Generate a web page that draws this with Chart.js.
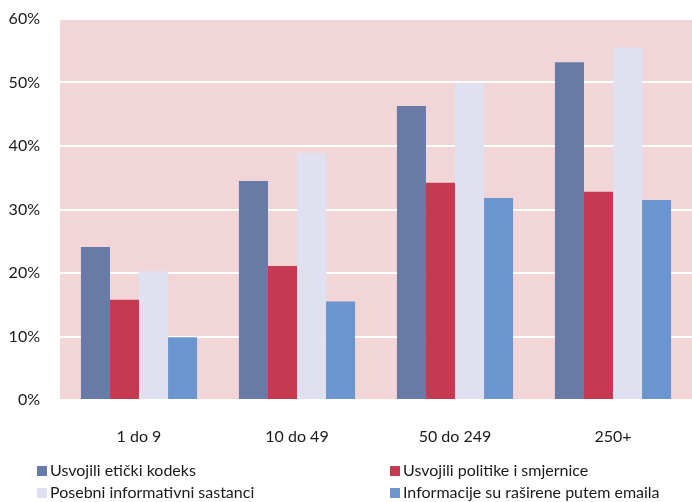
<!DOCTYPE html>
<html>
<head>
<meta charset="utf-8">
<script src="https://cdn.jsdelivr.net/npm/chart.js@4"></script>
<style>
  html, body { margin: 0; padding: 0; background: #ffffff; }
  #wrap { width: 692px; height: 502px; }
</style>
</head>
<body>
<div id="wrap"><canvas id="c" width="692" height="502"></canvas></div>
<script>
// Company size groups
const categories = ['1 do 9', '10 do 49', '50 do 249', '250+'];

// Share of companies (%) per measure
const eticki     = [24.1, 34.5, 46.3, 53.2];
const politike   = [15.8, 21.1, 34.2, 32.8];
const sastanci   = [20.3, 38.9, 49.9, 55.5];
const emailInfo  = [9.9, 15.5, 31.8, 31.5];

const seriesLabels = [
  'Usvojili etički kodeks',
  'Usvojili politike i smjernice',
  'Posebni informativni sastanci',
  'Informacije su raširene putem emaila'
];

const yTicks = [0, 10, 20, 30, 40, 50, 60];

const FONT = 'Lato, "Liberation Sans", sans-serif';

// Pink plot background
const plotBg = {
  id: 'plotBg',
  beforeDraw(chart) {
    const { ctx, chartArea: a } = chart;
    ctx.save();
    ctx.fillStyle = '#F2D5D7';
    ctx.fillRect(a.left, a.top, a.right - a.left, a.bottom - a.top);
    ctx.restore();
  }
};

// Two-column legend under the chart
const gridLegend = {
  id: 'gridLegend',
  afterDraw(chart) {
    const { ctx } = chart;
    const cols = [37, 390];
    const rows = [471, 493];
    ctx.save();
    ctx.font = '16px ' + FONT;
    ctx.textBaseline = 'middle';
    chart.data.datasets.forEach((ds, i) => {
      const x = cols[i % 2];
      const y = rows[Math.floor(i / 2)];
      ctx.fillStyle = ds.backgroundColor;
      ctx.fillRect(x, y - 5, 10, 10);
      ctx.fillStyle = '#1a1a1a';
      ctx.fillText(ds.label, x + 13, y);
    });
    ctx.restore();
  }
};

const colors = ['#687AA6', '#C53A50', '#DFE1F1', '#6A95CE'];
const values = [eticki, politike, sastanci, emailInfo];

new Chart(document.getElementById('c'), {
  type: 'bar',
  data: {
    labels: categories,
    datasets: values.map((v, i) => ({
      label: seriesLabels[i],
      data: v,
      backgroundColor: colors[i],
      borderWidth: 0,
      categoryPercentage: 0.735,
      barPercentage: 1.0
    }))
  },
  options: {
    responsive: false,
    animation: false,
    devicePixelRatio: 1,
    layout: { padding: { top: 19, left: 0, right: 0, bottom: 52 } },
    plugins: {
      legend: { display: false },
      tooltip: { enabled: false }
    },
    scales: {
      x: {
        grid: { display: false, drawTicks: false },
        border: { display: false },
        ticks: { color: '#1a1a1a', font: { family: FONT, size: 16 }, padding: 27 },
        afterFit(scale) { scale.height = 50; scale.paddingLeft = 0; scale.paddingRight = 0; }
      },
      y: {
        min: 0,
        max: 60,
        afterBuildTicks(scale) { scale.ticks = yTicks.map(v => ({ value: v })); },
        grid: { color: '#ffffff', lineWidth: 2, drawTicks: false },
        border: { display: false },
        ticks: {
          color: '#1a1a1a',
          font: { family: FONT, size: 16 },
          padding: 20,
          callback: v => v + '%'
        },
        afterFit(scale) { scale.width = 60; scale.paddingTop = 0; scale.paddingBottom = 0; }
      }
    }
  },
  plugins: [plotBg, gridLegend]
});
</script>
</body>
</html>
